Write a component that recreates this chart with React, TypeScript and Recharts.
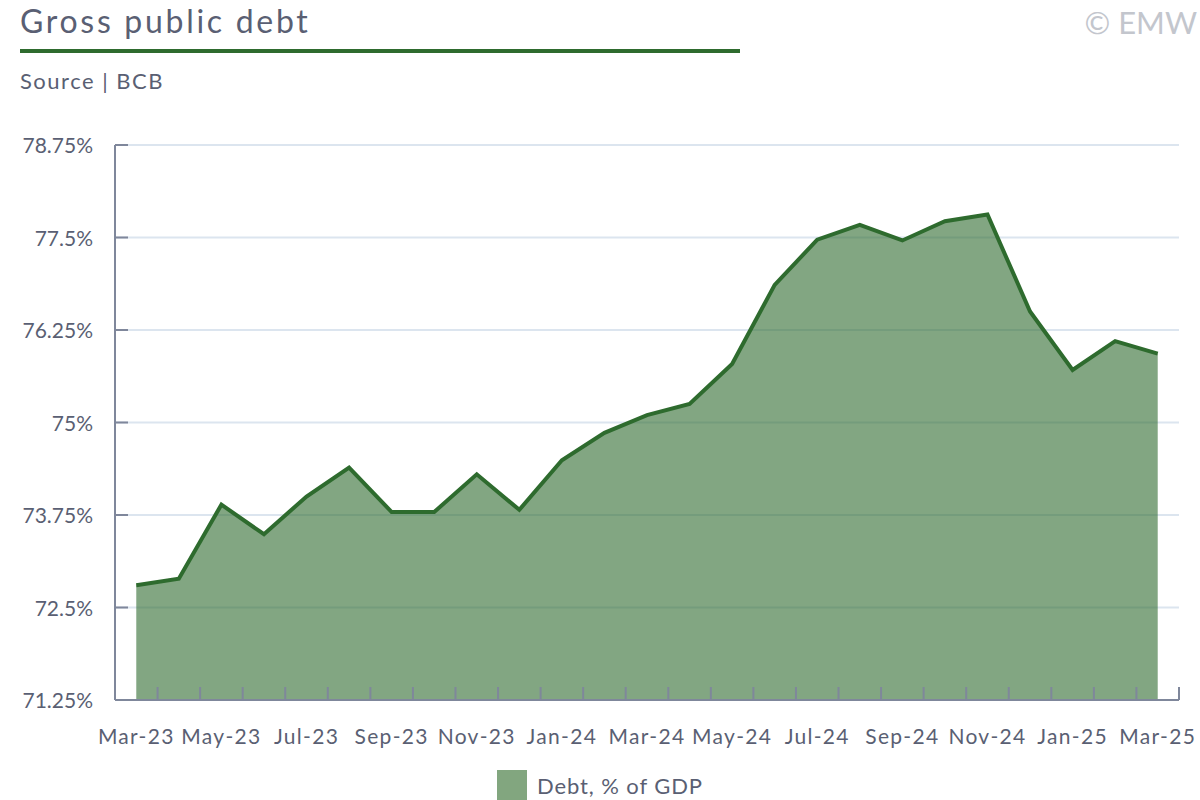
import { AreaChart, Area, XAxis, YAxis, CartesianGrid } from 'recharts';

const months = [
  'Mar-23', 'Apr-23', 'May-23', 'Jun-23', 'Jul-23', 'Aug-23', 'Sep-23', 'Oct-23', 'Nov-23',
  'Dec-23', 'Jan-24', 'Feb-24', 'Mar-24', 'Apr-24', 'May-24', 'Jun-24', 'Jul-24', 'Aug-24',
  'Sep-24', 'Oct-24', 'Nov-24', 'Dec-24', 'Jan-25', 'Feb-25', 'Mar-25',
];
const debt = [
  72.8, 72.89, 73.89, 73.49, 74.0, 74.39, 73.79, 73.79, 74.3, 73.82, 74.49, 74.86, 75.1,
  75.25, 75.79, 76.86, 77.47, 77.67, 77.46, 77.72, 77.81, 76.5, 75.71, 76.1, 75.93,
];
const yTicks = [71.25, 72.5, 73.75, 75, 76.25, 77.5, 78.75];

const data = months.map((m, i) => ({ i, month: m, debt: debt[i] }));
// tick marks sit on month boundaries, labels on every second month centre
const xTicks = [...data.flatMap((d) => [d.i - 0.5, d.i]), months.length - 0.5];

const FONT = 'Lato, "Open Sans", sans-serif';
const TEXT = '#5a5f73';
const AXIS = '#7f879b';
const GREEN = '#2e6b2e';

const YTick = ({ x, y, payload }: any) => (
  <g>
    <line x1={x} x2={x + 13} y1={y} y2={y} stroke={AXIS} strokeWidth={2} />
    <text x={x - 22} y={y + 8} textAnchor="end" fill={TEXT} fontSize={21} fontFamily={FONT}>
      {payload.value}%
    </text>
  </g>
);

const XTick = ({ x, y, payload }: any) => {
  const v = payload.value;
  if (!Number.isInteger(v)) {
    return <line x1={x} x2={x} y1={y} y2={y - 13} stroke={AXIS} strokeWidth={2} />;
  }
  if (v % 2 !== 0) return <g />;
  return (
    <text x={x} y={y + 44} textAnchor="middle" fill={TEXT} fontSize={21} letterSpacing={1.3} fontFamily={FONT}>
      {months[v]}
    </text>
  );
};

export default function App() {
  return (
    <div style={{ position: 'absolute', left: 0, top: 0, width: 1200, height: 800, background: '#fff', fontFamily: FONT, overflow: 'hidden' }}>
      <div style={{ position: 'absolute', left: 20, top: 0, fontSize: 32, letterSpacing: 2.7, color: TEXT, lineHeight: '42px' }}>
        Gross public debt
      </div>
      <div style={{ position: 'absolute', left: 20, top: 49, width: 720, height: 4, background: GREEN }} />
      <div style={{ position: 'absolute', left: 20, top: 67, fontSize: 22, letterSpacing: 1.5, color: TEXT, lineHeight: '28px' }}>
        Source | BCB
      </div>
      <div style={{ position: 'absolute', right: 3, top: 2, fontSize: 31, color: '#c3c6cd', lineHeight: '40px' }}>
        © EMW
      </div>

      <div style={{ position: 'absolute', left: 0, top: 0 }}>
        <AreaChart width={1200} height={800} data={data} margin={{ top: 145, right: 21, bottom: 40, left: 0 }}>
          <CartesianGrid horizontal vertical={false} stroke="#dce5ef" strokeWidth={2} />
          <YAxis
            type="number"
            domain={[71.25, 78.75]}
            ticks={yTicks}
            width={115}
            tickSize={0}
            tickMargin={0}
            tickLine={false}
            axisLine={{ stroke: AXIS, strokeWidth: 2 }}
            tick={<YTick />}
            interval={0}
          />
          <Area
            type="linear"
            dataKey="debt"
            stroke={GREEN}
            strokeWidth={4}
            fill={GREEN}
            fillOpacity={0.6}
            baseValue={71.25}
            isAnimationActive={false}
          />
          <XAxis
            dataKey="i"
            type="number"
            domain={[-0.5, months.length - 0.5]}
            ticks={xTicks}
            interval={0}
            height={60}
            tickSize={0}
            tickMargin={0}
            tickLine={false}
            axisLine={{ stroke: AXIS, strokeWidth: 2 }}
            tick={<XTick />}
          />
        </AreaChart>
      </div>

      <div style={{ position: 'absolute', left: 497, top: 770, display: 'flex', alignItems: 'center' }}>
        <div style={{ width: 30, height: 30, background: '#82a67f' }} />
        <span style={{ marginLeft: 10, fontSize: 22, letterSpacing: 0.9, color: TEXT }}>Debt, % of GDP</span>
      </div>
    </div>
  );
}
